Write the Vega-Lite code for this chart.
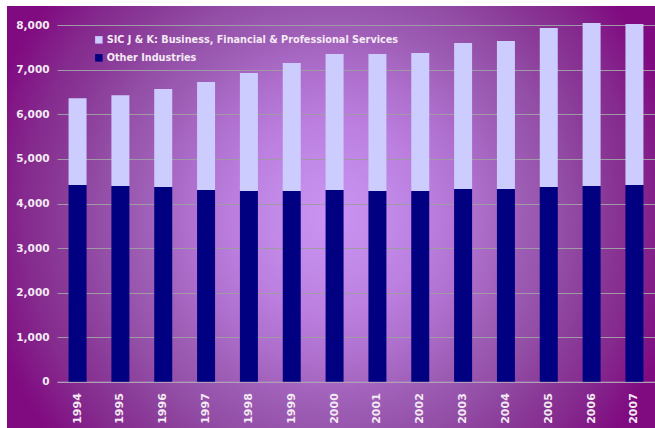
{
  "$schema": "https://vega.github.io/schema/vega-lite/v6.json",
  "autosize": {"type": "none"},
  "width": 648,
  "height": 422,
  "padding": {"left": 7, "top": 6, "right": 0, "bottom": 0},
  "background": "#ffffff",
  "config": {
    "view": {
      "stroke": null,
      "fill": {
        "gradient": "radial",
        "x1": 0.5, "y1": 0.5, "r1": 0,
        "x2": 0.5, "y2": 0.5, "r2": 0.55,
        "stops": [
          {"offset": 0, "color": "#ca94f4"},
          {"offset": 0.15, "color": "#c28ae8"},
          {"offset": 0.28, "color": "#bb7ede"},
          {"offset": 0.41, "color": "#ad6ecc"},
          {"offset": 0.53, "color": "#9e5eb6"},
          {"offset": 0.65, "color": "#934ea6"},
          {"offset": 0.76, "color": "#8a3a98"},
          {"offset": 0.86, "color": "#852a8e"},
          {"offset": 1, "color": "#800a80"}
        ]
      }
    },
    "font": "DejaVu Sans"
  },
  "data": {
    "values": [
      {"year": "1994", "series": "Other Industries", "value": 4415},
      {"year": "1995", "series": "Other Industries", "value": 4393},
      {"year": "1996", "series": "Other Industries", "value": 4370},
      {"year": "1997", "series": "Other Industries", "value": 4303},
      {"year": "1998", "series": "Other Industries", "value": 4281},
      {"year": "1999", "series": "Other Industries", "value": 4281},
      {"year": "2000", "series": "Other Industries", "value": 4303},
      {"year": "2001", "series": "Other Industries", "value": 4281},
      {"year": "2002", "series": "Other Industries", "value": 4281},
      {"year": "2003", "series": "Other Industries", "value": 4326},
      {"year": "2004", "series": "Other Industries", "value": 4326},
      {"year": "2005", "series": "Other Industries", "value": 4370},
      {"year": "2006", "series": "Other Industries", "value": 4393},
      {"year": "2007", "series": "Other Industries", "value": 4415},
      {"year": "1994", "series": "SIC J & K: Business, Financial & Professional Services", "value": 1946},
      {"year": "1995", "series": "SIC J & K: Business, Financial & Professional Services", "value": 2036},
      {"year": "1996", "series": "SIC J & K: Business, Financial & Professional Services", "value": 2200},
      {"year": "1997", "series": "SIC J & K: Business, Financial & Professional Services", "value": 2424},
      {"year": "1998", "series": "SIC J & K: Business, Financial & Professional Services", "value": 2648},
      {"year": "1999", "series": "SIC J & K: Business, Financial & Professional Services", "value": 2872},
      {"year": "2000", "series": "SIC J & K: Business, Financial & Professional Services", "value": 3052},
      {"year": "2001", "series": "SIC J & K: Business, Financial & Professional Services", "value": 3074},
      {"year": "2002", "series": "SIC J & K: Business, Financial & Professional Services", "value": 3097},
      {"year": "2003", "series": "SIC J & K: Business, Financial & Professional Services", "value": 3276},
      {"year": "2004", "series": "SIC J & K: Business, Financial & Professional Services", "value": 3321},
      {"year": "2005", "series": "SIC J & K: Business, Financial & Professional Services", "value": 3569},
      {"year": "2006", "series": "SIC J & K: Business, Financial & Professional Services", "value": 3658},
      {"year": "2007", "series": "SIC J & K: Business, Financial & Professional Services", "value": 3614}
    ]
  },
  "mark": {"type": "bar"},
  "encoding": {
    "x": {
      "field": "year",
      "type": "ordinal",
      "scale": {"range": [50, 648], "paddingInner": 0.58, "paddingOuter": 0.27},
      "axis": {
        "title": null,
        "offset": -46.3,
        "labelAngle": 270,
        "labelAlign": "right",
        "labelBaseline": "middle",
        "labelPadding": 11,
        "ticks": false,
        "labelFont": "DejaVu Sans",
        "labelFontSize": 11,
        "labelFontWeight": "bold",
        "labelColor": "#f4eaf4",
        "domainColor": "#b6a0c0",
        "domainWidth": 1
      }
    },
    "y": {
      "field": "value",
      "type": "quantitative",
      "stack": "zero",
      "scale": {"domain": [0, 8000], "range": [375.7, 19.3], "nice": false},
      "axis": {
        "title": null,
        "offset": -50,
        "values": [0, 1000, 2000, 3000, 4000, 5000, 6000, 7000, 8000],
        "format": ",.0f",
        "domain": false,
        "ticks": false,
        "labelPadding": 8,
        "labelFont": "DejaVu Sans",
        "labelFontSize": 10.5,
        "labelFontWeight": "bold",
        "labelColor": "#f4eaf4",
        "gridColor": "#a09aa6",
        "gridWidth": 1
      }
    },
    "color": {
      "field": "series",
      "type": "nominal",
      "scale": {
        "domain": ["SIC J & K: Business, Financial & Professional Services", "Other Industries"],
        "range": ["#ccccff", "#000080"]
      },
      "legend": {
        "title": null,
        "orient": "none",
        "legendX": 87,
        "legendY": 29,
        "symbolType": "square",
        "symbolSize": 56,
        "symbolStrokeWidth": 0,
        "symbolOpacity": 1,
        "labelFont": "DejaVu Sans",
        "labelFontSize": 9.7,
        "labelFontWeight": "bold",
        "labelColor": "#f4eaf4",
        "labelOffset": 3,
        "labelLimit": 500,
        "rowPadding": 7,
        "padding": 0
      }
    },
    "order": {"field": "series", "sort": "ascending"}
  }
}
